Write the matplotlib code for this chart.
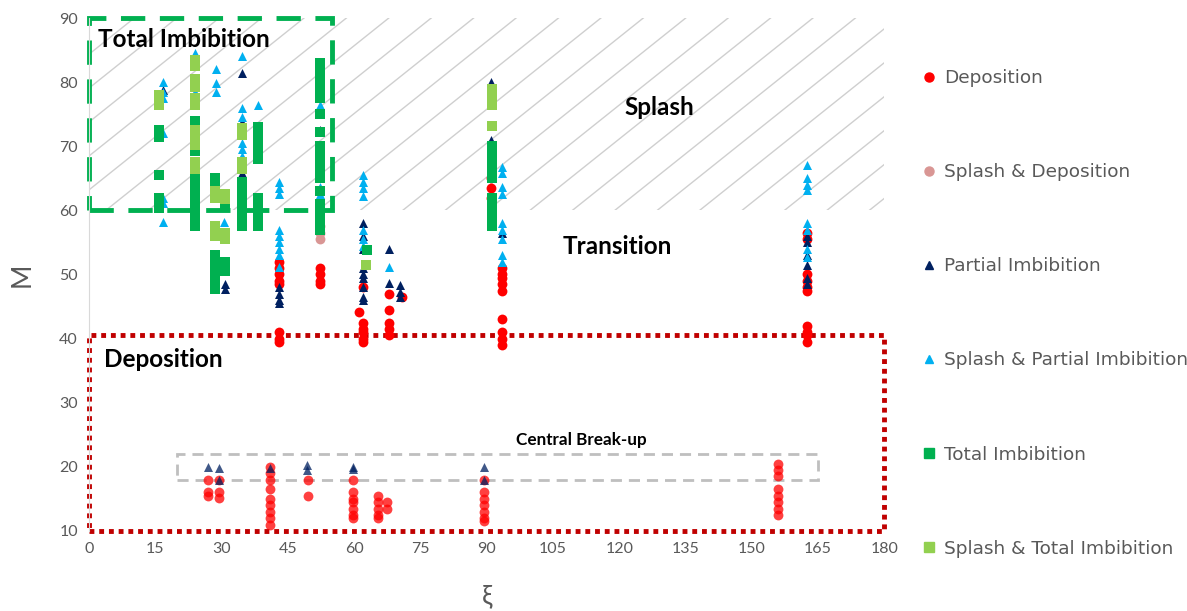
import numpy as np
import matplotlib
matplotlib.use("Agg")
import matplotlib.pyplot as plt
from matplotlib.patches import Rectangle
from matplotlib.lines import Line2D

plt.rcParams['font.family'] = ['Lato', 'DejaVu Sans']

# --- regime data (xi, M) ---
dep_x = [43]*8 + [52.3]*4 + [62]*6 + [61] + [68]*5 + [70.8] + [91]*3 + [93.5]*9 + [162.6]*10
dep_y = [52, 51, 50, 49, 48.5, 41, 40, 39.5,
         51, 50, 49, 48.5,
         48, 42.5, 41.5, 41, 40, 39.5, 44.2,
         47, 44.5, 42.5, 41.5, 40.5,
         46.5,
         65, 63.5, 62,
         51, 50, 49.5, 48.5, 47.5, 43, 41, 40, 39,
         56.5, 55.5, 50, 49, 48, 47.5, 42, 41, 40.5, 39.5]

# central break-up band, drawn lighter
dep_cb_x = [27]*3 + [29.5]*3 + [41]*9 + [49.5]*2 + [59.8]*7 + [65.5]*5 + [67.5]*2 + [89.5]*7 + [156]*8
dep_cb_y = [18, 16, 15.5,
            18, 16, 15.2,
            20, 19, 18, 16.5, 15, 14, 13, 12, 11,
            18, 15.5,
            18, 16, 15, 14.5, 13.5, 12.5, 12,
            15.5, 14.5, 13.5, 12.5, 12,
            14.5, 13.5,
            18, 16, 15, 14, 13, 12, 11.5,
            20.5, 19.5, 18.5, 16.5, 15.5, 14.5, 13.5, 12.5]

spl_dep_x = [52.3, 52.3, 52.3]
spl_dep_y = [57.5, 56.5, 55.5]

pi_x = [16.8] + [30.8]*2 + [34.6]*6 + [43]*4 + [52.3] + [62]*9 + [68]*2 + [70.3]*3 + [91]*3 + [93.5] + [162.6]*6
pi_y = [78.8,
        48.5, 47.8,
        81.4, 73.8, 65.8, 61, 60, 59.5,
        48, 47, 46, 45.5,
        72.5,
        58, 56, 54, 51, 50, 49.5, 48, 46.5, 46,
        54, 48.7,
        48.3, 47.3, 46.5,
        80, 77.5, 71,
        56.5,
        56, 55, 53, 51.5, 49.5, 48.5]

pi_cb_x = [27, 29.5, 29.5, 41, 49.3, 49.3, 59.8, 59.8, 89.5, 89.5]
pi_cb_y = [20, 19.8, 18, 19.8, 20.3, 19.5, 20, 19.7, 20, 18]

spi_x = ([16.8]*7 + [24]*2 + [28.8]*3 + [30.6] + [34.6]*9 + [38.3] + [43]*9 +
         [52.3]*5 + [62]*7 + [68] + [93.5]*9 + [162.6]*8)
spi_y = [80, 78.5, 77.5, 72, 62, 61.2, 58.2,
         84.5, 78.5,
         82, 79.8, 78.5,
         58.2,
         84, 76, 74.5, 73, 70.5, 69.5, 68.5, 63, 62,
         76.5,
         64.5, 63.5, 62.5, 57, 56, 55, 54, 53, 51.2,
         76.4, 75.3, 63.6, 62.5, 62,
         65.5, 64.5, 63.5, 62.2, 57, 55.5, 54.5,
         51.2,
         66.8, 65.8, 63.6, 62.5, 58, 57, 55.5, 53, 52,
         67, 65, 64, 63.2, 58, 57, 54, 52.7]

ti_x = ([15.9]*6 + [24]*11 + [28.5]*7 + [30.8]*3 + [34.6]*6 + [38.3]*10 +
        [52.3]*18 + [63] + [91.2]*10)
ti_y = [72.5, 71.5, 65.5, 62, 61, 60.3,
        74, 73, 69.3, 65.5, 64.5, 63.3, 62, 61, 59.5, 58, 57.5,
        65, 63.8, 53, 51.5, 50, 49, 47.8,
        60.5, 52, 50.5,
        64.5, 63, 61.5, 60, 58.5, 57.5,
        73, 71.5, 70, 69, 68, 62, 60.5, 59, 58, 57.5,
        83, 82, 81, 80, 78.5, 77.5, 75, 72.3, 70, 69, 68, 66.5, 65, 63, 61, 60, 58.5, 57,
        53.8,
        70, 69, 67.5, 66.5, 65, 62, 60.5, 59.5, 58.5, 57.5]

sti_x = [15.9]*3 + [24]*11 + [28.5]*4 + [30.8]*4 + [34.6]*4 + [62.8] + [91.2]*4
sti_y = [78, 77, 76.5,
         83.5, 82.5, 80.5, 79.3, 77.5, 76.5, 72.5, 71.5, 70.2, 67.5, 66.5,
         63, 62, 57.5, 56,
         62.5, 61.7, 56.5, 55.5,
         72.8, 71.8, 67.5, 66.5,
         51.5,
         79, 77.5, 76.5, 73.2]

labels = ['Deposition', 'Splash & Deposition', 'Partial Imbibition',
          'Splash & Partial Imbibition', 'Total Imbibition', 'Splash & Total Imbibition']
colors = ['#FF0000', '#D99694', '#002060', '#00B0F0', '#00B050', '#92D050']
markers = ['o', 'o', '^', '^', 's', 's']

xticks = list(range(0, 181, 15))
yticks = list(range(10, 91, 10))

fig = plt.figure(figsize=(11.87, 6.11), dpi=100)
ax = fig.add_axes([0.075, 0.131, 0.670, 0.8395])
ax.set_xlim(0, 180)
ax.set_ylim(10, 90)

# diagonal hatching over the splash region
splash_box = Rectangle((0, 60), 180, 30, facecolor='none', edgecolor='none')
ax.add_patch(splash_box)
for c in np.arange(-5.8 - 9.6 * 6, 185, 9.6):
    ln, = ax.plot([c, c + 30 / 0.551], [60, 90], color='#CFCFCF', lw=1, zorder=1)
    ln.set_clip_path(splash_box)

# region outlines
ax.add_patch(Rectangle((0, 60), 55, 30, fill=False, edgecolor='#00B050', lw=3.5,
                       linestyle=(0, (5, 3)), clip_on=False, zorder=2))
ax.add_patch(Rectangle((0, 10), 180, 30.5, fill=False, edgecolor='#C00000', lw=3.5,
                       linestyle=(0, (1, 1)), clip_on=False, zorder=2))
ax.add_patch(Rectangle((20, 18), 145, 4, fill=False, edgecolor='#BFBFBF', lw=2,
                       linestyle=(0, (4, 2.5)), zorder=2))

sizes = {'o': 50, '^': 42, 's': 58}
series = [(dep_x, dep_y), (spl_dep_x, spl_dep_y), (pi_x, pi_y),
          (spi_x, spi_y), (ti_x, ti_y), (sti_x, sti_y)]
for (xs, ys), c, m in zip(series, colors, markers):
    ax.scatter(xs, ys, s=sizes[m], c=c, marker=m, linewidths=0, zorder=3)
ax.scatter(dep_cb_x, dep_cb_y, s=50, c=colors[0], marker='o', alpha=0.75, linewidths=0, zorder=3)
ax.scatter(pi_cb_x, pi_cb_y, s=42, c=colors[2], marker='^', alpha=0.75, linewidths=0, zorder=3)

# region names
txt = dict(fontsize=17.5, fontweight='bold', color='black', zorder=4)
ax.text(2, 86.6, 'Total Imbibition', ha='left', va='center', **txt)
ax.text(129, 76, 'Splash', ha='center', va='center', **txt)
ax.text(119.5, 54.4, 'Transition', ha='center', va='center', **txt)
ax.text(3.4, 36.8, 'Deposition', ha='left', va='center', **txt)
ax.text(111.4, 24.2, 'Central Break-up', ha='center', va='center',
        fontsize=12.3, fontweight='bold', color='black', zorder=4)

ax.set_xticks(xticks)
ax.set_yticks(yticks)
ax.tick_params(length=0, labelsize=11.5, labelcolor='#595959', pad=8)
for s in ['top', 'right', 'bottom']:
    ax.spines[s].set_visible(False)
ax.spines['left'].set_color('#D9D9D9')
ax.set_xlabel('ξ', fontsize=19, color='#595959', labelpad=20)
ax.set_ylabel('M', fontsize=19, color='#595959', labelpad=18)

handles = [Line2D([], [], linestyle='none', marker=m, color=c, markersize=6.5 if m != '^' else 6)
           for m, c in zip(markers, colors)]
fig.legend(handles, labels, loc='upper left', bbox_to_anchor=(0.772, 0.899), frameon=False,
           labelcolor='#595959', labelspacing=4.12, handlelength=0.6,
           handletextpad=0.5, borderaxespad=0,
           prop={'family': ['DejaVu Sans'], 'size': 13.3})

fig.savefig('out.png', dpi=100)
